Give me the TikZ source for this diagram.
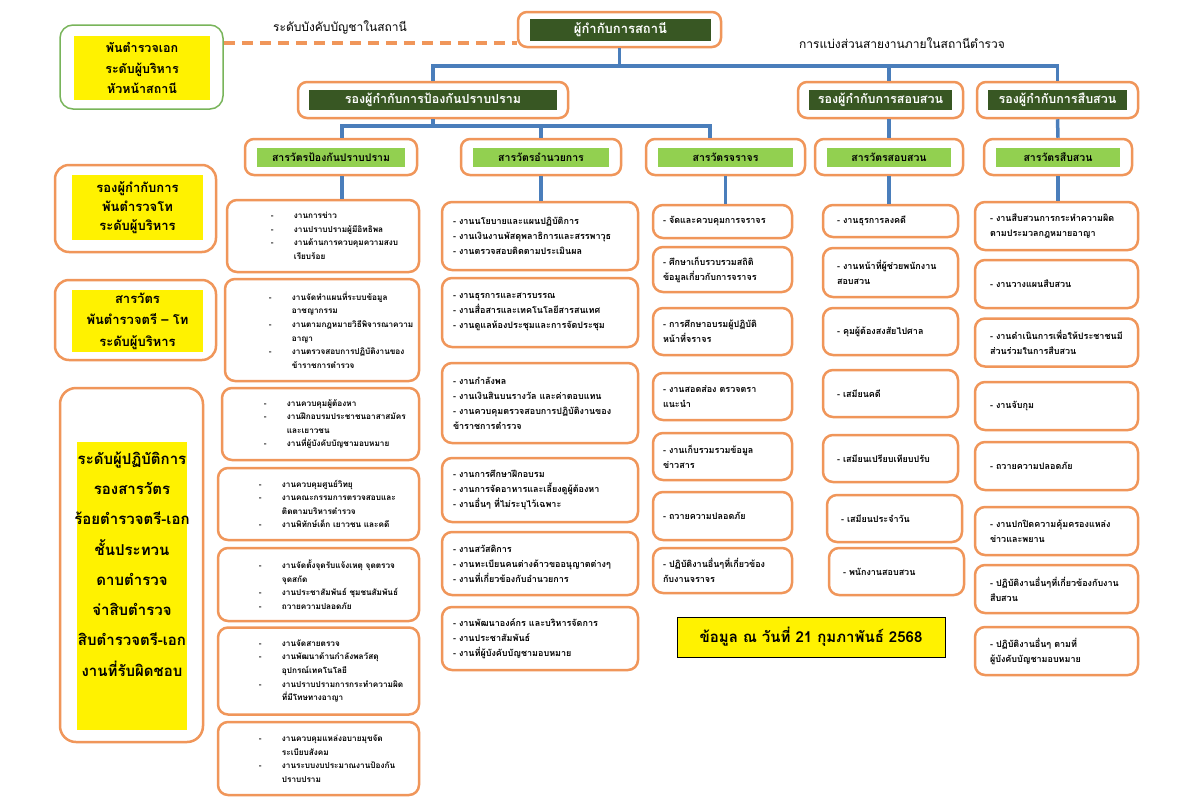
\documentclass[tikz,border=0pt]{standalone}
\usepackage{fontspec}
\newfontfamily\thaifnt[Script=Thai]{Loma}
\usetikzlibrary{positioning}

\definecolor{orbox}{RGB}{240,150,90}
\definecolor{dkgreen}{RGB}{56,87,35}
\definecolor{ltgreen}{RGB}{146,208,80}
\definecolor{connblue}{RGB}{74,126,187}
\definecolor{tlgreen}{RGB}{120,180,90}

% dash and indent for the first column
\newcommand\tdash{\makebox[23pt][l]{-}}
\newcommand\tgap{\hspace*{23pt}}

\begin{document}
\begin{tikzpicture}[x=1pt, y=-1pt,
    conn/.style={draw=connblue, line width=3.5pt},
    hdbox/.style={draw=orbox, line width=2.5pt, rounded corners=9pt, fill=white, inner sep=0pt},
    tlbox/.style={draw=tlgreen, line width=1.5pt, rounded corners=13pt, fill=white, inner sep=0pt},
    darkbar/.style={fill=dkgreen, text=white, inner sep=0pt, font=\thaifnt\bfseries\fontsize{12.5}{15}\selectfont},
    insbar/.style={fill=ltgreen, inner sep=0pt, font=\thaifnt\bfseries\fontsize{10.5}{12}\selectfont},
    yelbox/.style={fill=yellow, inner sep=0pt, align=center, font=\thaifnt\bfseries\fontsize{13}{19}\selectfont},
    task/.style={draw=orbox, line width=2.5pt, rounded corners=10pt, fill=white, align=left, inner ysep=0pt, font=\thaifnt\bfseries\fontsize{9}{15}\selectfont},
    ptext/.style={align=left, inner sep=0pt, font=\thaifnt\bfseries\fontsize{8.2}{13.6}\selectfont},
    col2/.style={task, text width=174pt, inner xsep=11pt, minimum width=196pt},
    col3/.style={task, text width=119pt, inner xsep=10pt, minimum width=139pt},
    col4/.style={task, text width=107pt, inner xsep=14pt, minimum width=135pt},
    col5/.style={task, text width=133pt, inner xsep=15pt, minimum width=163pt},
    datebox/.style={draw=black, line width=0.8pt, fill=yellow, inner sep=0pt, font=\thaifnt\bfseries\fontsize{15}{17}\selectfont},
    lbl/.style={inner sep=0pt, font=\thaifnt\fontsize{12}{14}\selectfont}]

    \fill[white] (0,0) rectangle (1193,809);
    \useasboundingbox (0,0) rectangle (1193,809);

    % station chief and deputies
    \node[hdbox, minimum width=203, minimum height=35] (chief) at (619.5,29.5) {};
    \node[darkbar, font=\thaifnt\bfseries\fontsize{13}{15}\selectfont, minimum width=181, minimum height=22] (chieft) at (620.5,30) {ผู้กำกับการสถานี};

    \node[hdbox, minimum width=270, minimum height=36] (d1) at (433,100) {};
    \node[darkbar, minimum width=248, minimum height=20] (d1t) at (433,100) {รองผู้กำกับการป้องกันปราบปราม};
    \node[hdbox, minimum width=165, minimum height=36] (d2) at (880.5,100) {};
    \node[darkbar, minimum width=143, minimum height=20] (d2t) at (880.5,100) {รองผู้กำกับการสอบสวน};
    \node[hdbox, minimum width=161, minimum height=36] (d3) at (1057.5,100) {};
    \node[darkbar, minimum width=139, minimum height=20] (d3t) at (1057.5,100) {รองผู้กำกับการสืบสวน};

    % inspectors
    \foreach \n/\x/\w/\t in {i1/331/172/{สารวัตรป้องกันปราบปราม}, i2/541/160/{สารวัตรอำนวยการ},
        i3/725.5/159/{สารวัตรจราจร}, i4/889/148/{สารวัตรสอบสวน}, i5/1058/148/{สารวัตรสืบสวน}} {
        \node[hdbox, minimum width=\w, minimum height=36] (\n) at (\x,157) {};
        \node[insbar, minimum width=\w-24, minimum height=19] (\n-t) at (\x,157.5) {\t};
    }

    % rank boxes on the left
    \node[tlbox, minimum width=163, minimum height=84] (tl) at (141.5,67) {};
    \node[yelbox, font=\thaifnt\bfseries\fontsize{12.5}{20.5}\selectfont, minimum width=136, minimum height=64] (tlt) at (142,68)
        {พันตำรวจเอก\\ระดับผู้บริหาร\\หัวหน้าสถานี};
    \node[hdbox, rounded corners=14pt, minimum width=161, minimum height=87] (l1) at (135.5,208.5) {};
    \node[yelbox, minimum width=131, minimum height=65] (l1t) at (137.5,207.5) {รองผู้กำกับการ\\พันตำรวจโท\\ระดับผู้บริหาร};
    \node[hdbox, rounded corners=14pt, minimum width=161, minimum height=80] (l2) at (135.5,320) {};
    \node[yelbox, font=\thaifnt\bfseries\fontsize{13}{21.5}\selectfont, minimum width=131, minimum height=62] (l2t) at (137.5,321)
        {สารวัตร\\พันตำรวจตรี – โท\\ระดับผู้บริหาร};
    \node[hdbox, rounded corners=16pt, minimum width=143, minimum height=354] (l3) at (131.5,565) {};
    \node[fill=yellow, minimum width=110, minimum height=288] (l3y) at (132,586) {};
    \node[yelbox, fill=none, font=\thaifnt\bfseries\fontsize{15}{30.3}\selectfont] (l3t) at (132,564)
        {ระดับผู้ปฏิบัติการ\\รองสารวัตร\\ร้อยตำรวจตรี-เอก\\ชั้นประทวน\\ดาบตำรวจ\\จ่าสิบตำรวจ\\สิบตำรวจตรี-เอก\\งานที่รับผิดชอบ};

    % labels
    \node[lbl] (cmdlbl) at (340,27) {ระดับบังคับบัญชาในสถานี};
    \node[lbl] (divlbl) at (902,43) {การแบ่งส่วนสายงานภายในสถานีตำรวจ};
    \node[datebox, minimum width=268, minimum height=40] (date) at (811,637) {ข้อมูล ณ วันที่ 21 กุมภาพันธ์ 2568};

    % column 1: prevention and suppression
    \node[task, minimum width=192, minimum height=72] (p1) at (323,236) {};
    \node[ptext, right=45pt of p1.west] (p1t) {\tdash งานการข่าว\\\tdash งานปราบปรามผู้มีอิทธิพล\\\tdash งานด้านการควบคุมความสงบ\\\tgap เรียบร้อย};
    \node[task, minimum width=194, minimum height=102] (p2) at (322,330) {};
    \node[ptext, right=45pt of p2.west] (p2t) {\tdash งานจัดทำแผนที่ระบบข้อมูล\\\tgap อาชญากรรม\\\tdash งานตามกฎหมายวิธีพิจารณาความ\\\tgap อาญา\\\tdash งานตรวจสอบการปฏิบัติงานของ\\\tgap ข้าราชการตำรวจ};
    \node[task, minimum width=197, minimum height=72] (p3) at (320.5,424) {};
    \node[ptext, right=43pt of p3.west] (p3t) {\tdash งานควบคุมผู้ต้องหา\\\tdash งานฝึกอบรมประชาชนอาสาสมัคร\\\tgap และเยาวชน\\\tdash งานที่ผู้บังคับบัญชามอบหมาย};
    \node[task, minimum width=201, minimum height=72] (p4) at (318.5,504) {};
    \node[ptext, right=42pt of p4.west] (p4t) {\tdash งานควบคุมศูนย์วิทยุ\\\tdash งานคณะกรรมการตรวจสอบและ\\\tgap ติดตามบริหารตำรวจ\\\tdash งานพิทักษ์เด็ก เยาวชน และคดี};
    \node[task, minimum width=201, minimum height=73] (p5) at (318.5,584.5) {};
    \node[ptext, right=42pt of p5.west] (p5t) {\tdash งานจัดตั้งจุดรับแจ้งเหตุ จุดตรวจ\\\tgap จุดสกัด\\\tdash งานประชาสัมพันธ์ ชุมชนสัมพันธ์\\\tdash ถวายความปลอดภัย};
    \node[task, minimum width=201, minimum height=87] (p6) at (318.5,671) {};
    \node[ptext, right=42pt of p6.west] (p6t) {\tdash งานจัดสายตรวจ\\\tdash งานพัฒนาด้านกำลังพลวัสดุ\\\tgap อุปกรณ์เทคโนโลยี\\\tdash งานปราบปรามการกระทำความผิด\\\tgap ที่มีโทษทางอาญา};
    \node[task, minimum width=201, minimum height=73] (p7) at (318.5,758.5) {};
    \node[ptext, right=42pt of p7.west] (p7t) {\tdash งานควบคุมแหล่งอบายมุขจัด\\\tgap ระเบียบสังคม\\\tdash งานระบบงบประมาณงานป้องกัน\\\tgap ปราบปราม};

    % column 2: administration
    \node[col2, minimum height=68] (q1) at (540,236) {- งานนโยบายและแผนปฏิบัติการ\\- งานเงินงานพัสดุพลาธิการและสรรพาวุธ\\- งานตรวจสอบติดตามประเมินผล};
    \node[col2, minimum height=69] (q2) at (540,312.5) {- งานธุรการและสารบรรณ\\- งานสื่อสารและเทคโนโลยีสารสนเทศ\\- งานดูแลห้องประชุมและการจัดประชุม};
    \node[col2, minimum height=80] (q3) at (540,403) {- งานกำลังพล\\- งานเงินสินบนรางวัล และค่าตอบแทน\\- งานควบคุมตรวจสอบการปฏิบัติงานของ\\ข้าราชการตำรวจ};
    \node[col2, minimum height=64] (q4) at (540,490) {- งานการศึกษาฝึกอบรม\\- งานการจัดอาหารและเลี้ยงดูผู้ต้องหา\\- งานอื่นๆ ที่ไม่ระบุไว้เฉพาะ};
    \node[col2, minimum height=63] (q5) at (540,563.5) {- งานสวัสดิการ\\- งานทะเบียนคนต่างด้าวขออนุญาตต่างๆ\\- งานที่เกี่ยวข้องกับอำนวยการ};
    \node[col2, minimum height=63] (q6) at (540,638.5) {- งานพัฒนาองค์กร และบริหารจัดการ\\- งานประชาสัมพันธ์\\- งานที่ผู้บังคับบัญชามอบหมาย};

    % column 3: traffic
    \foreach \n/\y/\h/\t in {r1/221.5/33/{- จัดและควบคุมการจราจร},
        r2/269.5/45/{- ศึกษาเก็บรวบรวมสถิติ\\ข้อมูลเกี่ยวกับการจราจร},
        r3/331.5/47/{- การศึกษาอบรมผู้ปฏิบัติ\\หน้าที่จราจร},
        r4/396.5/47/{- งานสอดส่อง ตรวจตรา\\แนะนำ},
        r5/456.5/47/{- งานเก็บรวมรวมข้อมูล\\ข่าวสาร},
        r6/516/48/{- ถวายความปลอดภัย},
        r7/570.5/45/{- ปฏิบัติงานอื่นๆที่เกี่ยวข้อง\\กับงานจราจร}}
        \node[col3, minimum height=\h] (\n) at (722.5,\y) {\t};

    % column 4: inquiry
    \node[col4, minimum height=32] (s1) at (890.5,221) {- งานธุรการลงคดี};
    \node[col4, minimum height=49] (s2) at (890.5,272.5) {- งานหน้าที่ผู้ช่วยพนักงาน\\สอบสวน};
    \node[col4, minimum height=47] (s3) at (890.5,331.5) {- คุมผู้ต้องสงสัยไปศาล};
    \node[col4, minimum height=47] (s4) at (890.5,393.5) {- เสมียนคดี};
    \node[col4, minimum height=47] (s5) at (890.5,458.5) {- เสมียนเปรียบเทียบปรับ};
    \node[col4, minimum height=47] (s6) at (894.5,518.5) {- เสมียนประจำวัน};
    \node[col4, minimum height=47] (s7) at (896.5,571.5) {- พนักงานสอบสวน};

    % column 5: investigation
    \foreach \n/\y/\t in {u1/226/{- งานสืบสวนการกระทำความผิด\\ตามประมวลกฎหมายอาญา},
        u2/284/{- งานวางแผนสืบสวน},
        u3/342.5/{- งานดำเนินการเพื่อให้ประชาชนมี\\ส่วนร่วมในการสืบสวน},
        u4/406/{- งานจับกุม},
        u5/466/{- ถวายความปลอดภัย},
        u6/531/{- งานปกปิดความคุ้มครองแหล่ง\\ข่าวและพยาน},
        u7/589/{- ปฏิบัติงานอื่นๆที่เกี่ยวข้องกับงาน\\สืบสวน},
        u8/651/{- ปฏิบัติงานอื่นๆ ตามที่\\ผู้บังคับบัญชามอบหมาย}}
        \node[col5, minimum height=48] (\n) at (1056.5,\y) {\t};

    % connectors
    \coordinate (bus1) at (620,66);
    \coordinate (j1) at (342,126);
    \coordinate (j2) at (541,126);
    \coordinate (j3) at (710,126);
    \coordinate (dl) at (0,43);

    \draw[draw=orbox, line width=3.5pt, dash pattern=on 11pt off 7pt] (tl.east |- dl) -- (chief.west |- dl);

    \draw[conn] (chief.south) -- (chief.south |- bus1);
    \draw[conn] (d1.north) |- (d3.north |- bus1) -- (d3.north);
    \draw[conn] (i4.north |- bus1) -- (i4.north |- d2.north);
    \draw[conn] (i4.north |- d2.south) -- (i4.north);
    \draw[conn] (d3.south) -- (i5.north);

    \draw[conn] (d1.south) -- (d1.south |- j1);
    \draw[conn] (j1 |- i1.north) |- (j3) -- (j3 |- i3.north);
    \draw[conn] (j2) -- (j2 |- i2.north);

    \draw[conn] (j1 |- i1.south) -- (j1 |- p1.north);
    \draw[conn] (i2.south) -- (i2.south |- q1.north);
    \draw[conn] (i3.south) -- (i3.south |- r1.north);
    \draw[conn] (i4.south) -- (i4.south |- s1.north);
    \draw[conn] (i5.south) -- (i5.south |- u1.north);
\end{tikzpicture}
\end{document}
